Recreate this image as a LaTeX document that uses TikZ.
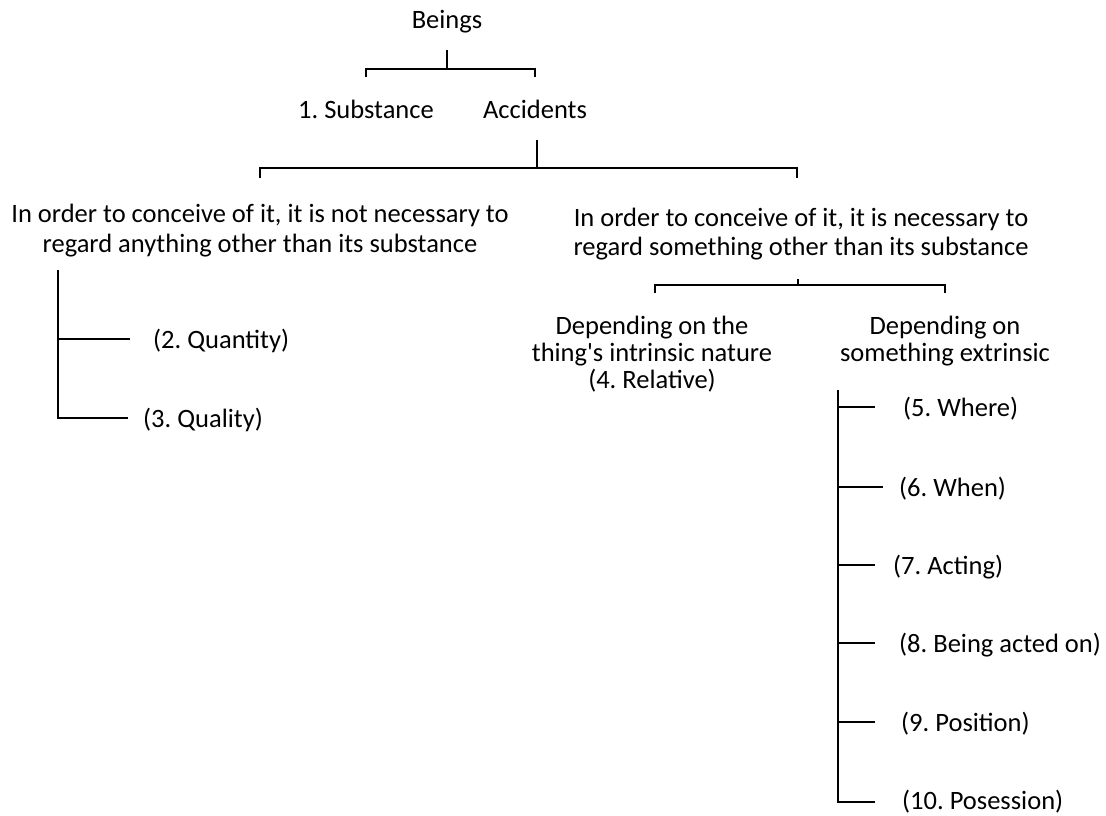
\documentclass[tikz,border=0pt]{standalone}
\usepackage{fontspec}
\setmainfont{Carlito}
\frenchspacing
\begin{document}
\begin{tikzpicture}[x=1pt,y=-1pt,
  lbl/.style={inner sep=0pt, font=\fontsize{26.5}{26}\selectfont, anchor=base},
  item/.style={lbl, anchor=base west},
  ml/.style={lbl, align=center},
  br/.style={line width=2.5pt, line cap=butt, line join=miter}]
\useasboundingbox (0,0) rectangle (1106,815);

% labels (multi-line nodes are placed by the baseline of their last line)
\node[lbl] (beings) at (447,28) {Beings};
\node[lbl] (subst) at (366,118) {1. Substance};
\node[lbl] (acc) at (535,118) {Accidents};
\node[ml, font=\fontsize{26.5}{30}\selectfont] (notnec) at (260,252)
  {In order to conceive of it, it is not necessary to\\regard anything other than its substance};
\node[ml, font=\fontsize{26.5}{29}\selectfont] (nec) at (801,255)
  {In order to conceive of it, it is necessary to\\regard something other than its substance};
\node[ml, font=\fontsize{26.5}{26.8}\selectfont] (intr) at (652,388.5)
  {Depending on the\\thing\textquotesingle s intrinsic nature\\(4. Relative)};
\node[ml, font=\fontsize{26.5}{26.8}\selectfont] (extr) at (945,361.5)
  {Depending on\\something extrinsic};
\node[item] (quant) at (153,348) {(2. Quantity)};
\node[item] (qual) at (143,427) {(3. Quality)};
\node[item] (where) at (903,416) {(5. Where)};
\node[item] (when) at (899,496) {(6. When)};
\node[item] (acting) at (893,574) {(7. Acting)};
\node[item] (acted) at (899,652) {(8. Being acted on)};
\node[item] (position) at (901,731) {(9. Position)};
\node[item] (posession) at (902,809) {(10. Posession)};

% bracket under Beings
\coordinate (bStem) at (447,50);
\coordinate (bJoin) at (447,69);
\coordinate (bL) at (366,77);
\coordinate (bR) at (535,77);
\draw[br] (bStem) -- (bJoin);
\draw[br] (bL) |- (bJoin) -| (bR);

% bracket under Accidents
\coordinate (aStem) at (537,140);
\coordinate (aJoin) at (537,168);
\coordinate (aL) at (260,178);
\coordinate (aR) at (797,178);
\draw[br] (aStem) -- (aJoin);
\draw[br] (aL) |- (aJoin) -| (aR);

% bracket under the second kind of accident
\coordinate (cStem) at (798,279);
\coordinate (cJoin) at (798,285);
\coordinate (cL) at (655,293);
\coordinate (cR) at (945,293);
\draw[br] (cStem) -- (cJoin);
\draw[br] (cL) |- (cJoin) -| (cR);

% list under the first kind of accident
\coordinate (lTop) at (58,270);
\coordinate (lQuant) at (130,339);
\coordinate (lQual) at (128,418);
\draw[br] (lTop) |- (lQual);
\draw[br] (lTop |- lQuant) -- (lQuant);

% list under the extrinsic accidents
\coordinate (rTop) at (838,390);
\coordinate (rWhere) at (875,407);
\coordinate (rWhen) at (883,487);
\coordinate (rActing) at (875,565);
\coordinate (rActed) at (875,643);
\coordinate (rPosition) at (875,722);
\coordinate (rPosession) at (875,802);
\draw[br] (rTop) |- (rPosession);
\foreach \c in {rWhere,rWhen,rActing,rActed,rPosition}
  \draw[br] (rTop |- \c) -- (\c);
\end{tikzpicture}
\end{document}
